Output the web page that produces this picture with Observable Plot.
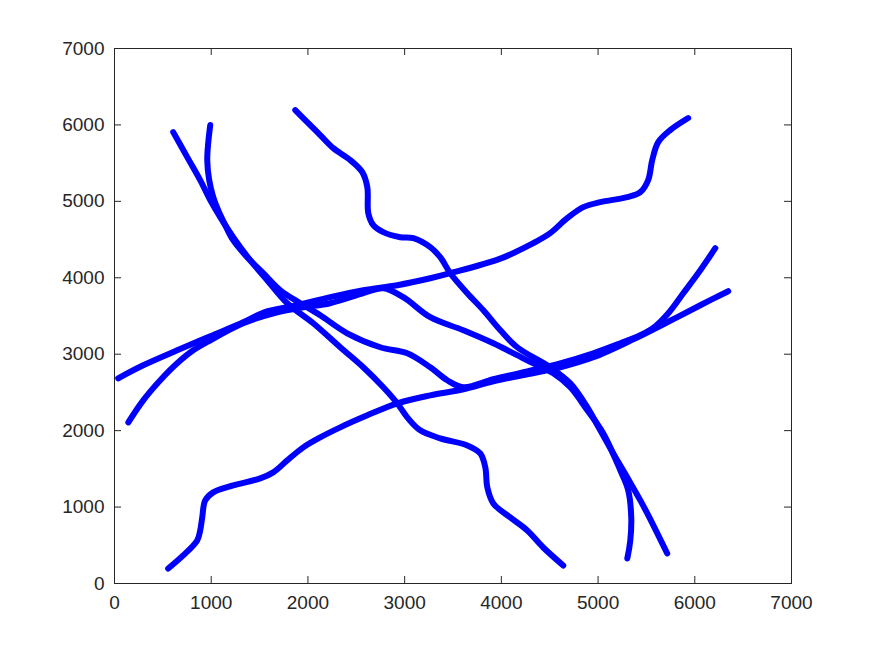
<!DOCTYPE html>
<html>
<head>
<meta charset="utf-8">
<script src="https://cdn.jsdelivr.net/npm/d3@7"></script>
<script src="https://cdn.jsdelivr.net/npm/@observablehq/plot@0.6"></script>
<style>
  html, body { margin: 0; padding: 0; background: #ffffff; }
  #chart { width: 875px; height: 656px; }
</style>
</head>
<body>
<div id="chart"></div>
<script>
// Tick values
const xTicks = [0, 1000, 2000, 3000, 4000, 5000, 6000, 7000];
const yTicks = [0, 1000, 2000, 3000, 4000, 5000, 6000, 7000];

// Curve 1: wavy rising path from left edge to top right
const c1X = [38, 297, 648, 990, 1331, 1548, 1890, 2231, 2573, 2924, 3265, 3472, 3988, 4330, 4505, 4681, 4847, 5023, 5302, 5437, 5518, 5560, 5622, 5746, 5932];
const c1Y = [2685, 2855, 3051, 3235, 3418, 3549, 3641, 3746, 3837, 3903, 3994, 4060, 4250, 4453, 4584, 4780, 4924, 4990, 5055, 5121, 5278, 5540, 5775, 5932, 6090];

// Curve 2: arc rising from left, peak, then down to bottom right
const c2X = [143, 297, 473, 648, 814, 990, 1331, 1683, 1952, 2231, 2573, 2779, 2986, 3265, 3607, 3917, 4268, 4537, 4713, 4889, 5054, 5230, 5312, 5343, 5333, 5302];
const c2Y = [2108, 2396, 2659, 2881, 3051, 3182, 3405, 3549, 3615, 3667, 3798, 3863, 3746, 3484, 3313, 3143, 2920, 2750, 2567, 2266, 1964, 1480, 1218, 864, 563, 327];

// Curve 3: wavy descending path from top
const c3X = [1869, 1993, 2127, 2262, 2438, 2562, 2614, 2624, 2676, 2779, 2955, 3089, 3265, 3368, 3472, 3648, 3814, 3990, 4164, 4505, 4713, 4889, 5023, 5157, 5302, 5437, 5509, 5715];
const c3Y = [6194, 6037, 5867, 5696, 5540, 5382, 5186, 4846, 4688, 4597, 4531, 4518, 4400, 4269, 4060, 3798, 3575, 3313, 3091, 2829, 2619, 2305, 2004, 1702, 1388, 1087, 917, 393];

// Curve 4: steep descending path from top left
const c4X = [607, 752, 886, 990, 1093, 1227, 1403, 1579, 1786, 2055, 2334, 2572, 2779, 2924, 3027, 3161, 3368, 3648, 3782, 3834, 3855, 3917, 4092, 4268, 4433, 4640];
const c4Y = [5906, 5579, 5278, 5016, 4793, 4531, 4230, 3968, 3667, 3405, 3091, 2829, 2567, 2357, 2174, 2004, 1899, 1807, 1702, 1519, 1257, 1048, 864, 694, 471, 236];

// Curve 5: arc from top, down, then rising to right edge
const c5X = [990, 969, 959, 979, 1021, 1072, 1145, 1227, 1372, 1538, 1714, 1921, 2127, 2406, 2748, 3027, 3265, 3441, 3607, 3917, 4268, 4609, 4951, 5230, 5437, 5592, 5726, 5881, 6057, 6212];
const c5Y = [5998, 5763, 5540, 5278, 5055, 4884, 4688, 4492, 4269, 4060, 3837, 3667, 3510, 3274, 3091, 3012, 2829, 2659, 2567, 2672, 2776, 2881, 3012, 3143, 3248, 3366, 3536, 3798, 4099, 4387];

// Curve 6: wavy rising path from bottom left to right edge
const c6X = [555, 710, 855, 886, 907, 938, 1021, 1227, 1507, 1641, 1786, 1952, 2127, 2334, 2614, 2924, 3265, 3607, 3917, 4268, 4609, 4951, 5364, 5715, 6057, 6346];
const c6Y = [196, 367, 563, 694, 864, 1087, 1192, 1283, 1375, 1454, 1611, 1781, 1912, 2043, 2200, 2357, 2462, 2541, 2645, 2737, 2829, 2960, 3195, 3418, 3641, 3824];

const curves = [[c1X, c1Y], [c2X, c2Y], [c3X, c3Y], [c4X, c4Y], [c5X, c5Y], [c6X, c6Y]];
const rows = [];
curves.forEach(([xs, ys], k) => xs.forEach((x, i) => rows.push({id: k, x, y: ys[i]})));

const ink = "#262626";
const W = 875, H = 656, mL = 114, mR = 84, mT = 48, mB = 73;
const innerW = W - mL - mR, innerH = H - mT - mB;
const tk = 7;

const chart = Plot.plot({
  width: W,
  height: H,
  marginLeft: mL,
  marginRight: mR,
  marginTop: mT,
  marginBottom: mB,
  style: {fontFamily: "'Liberation Sans', Arial, Helvetica, sans-serif", fontSize: "19px", color: ink, background: "#ffffff"},
  x: {domain: [0, 7000]},
  y: {domain: [0, 7000]},
  marks: [
    Plot.line(rows, {x: "x", y: "y", z: "id", stroke: "#0000ff", strokeWidth: 6, strokeLinecap: "round", strokeLinejoin: "round", curve: "catmull-rom"}),
    Plot.tickX(xTicks, {x: d => d, stroke: ink, insetTop: innerH - tk}),
    Plot.tickX(xTicks, {x: d => d, stroke: ink, insetBottom: innerH - tk}),
    Plot.tickY(yTicks, {y: d => d, stroke: ink, insetRight: innerW - tk}),
    Plot.tickY(yTicks, {y: d => d, stroke: ink, insetLeft: innerW - tk}),
    Plot.frame({stroke: ink, strokeWidth: 1}),
    Plot.axisX({ticks: xTicks, tickSize: 0, tickPadding: 12, label: null, tickFormat: d => String(d)}),
    Plot.axisY({ticks: yTicks, tickSize: 0, tickPadding: 10, label: null, tickFormat: d => String(d)})
  ]
});
document.getElementById("chart").appendChild(chart);
</script>
</body>
</html>
